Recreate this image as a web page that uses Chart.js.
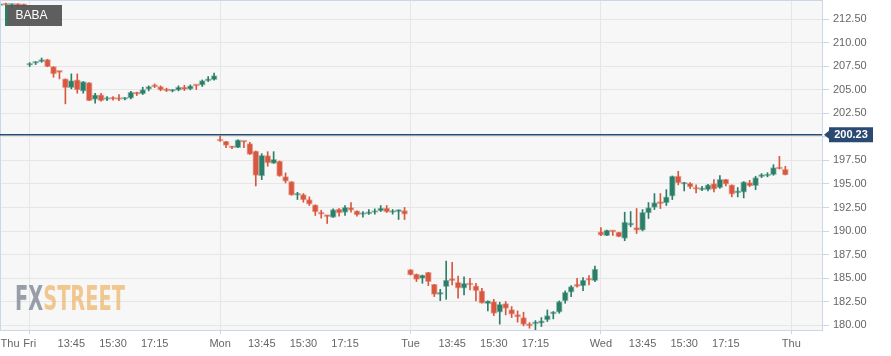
<!DOCTYPE html>
<html>
<head>
<meta charset="utf-8">
<script src="https://cdn.jsdelivr.net/npm/chart.js@4/dist/chart.umd.min.js"></script>
<style>
  html, body { margin: 0; padding: 0; background: #ffffff; }
  #wrap { width: 891px; height: 356px; }
</style>
</head>
<body>
<div id="wrap"><canvas id="c" width="891" height="356"></canvas></div>
<script>
// ---- DATA (15-minute candles, slot index = 15-min steps; Fri 12:00 = slot 0) ----
const symbol = 'BABA';
const lastPrice = 200.23;
const firstSlot = -5;

const opens = [
  // Thu (tail)
  213.95, 214.05, 213.98, 214.05, 214.00,
  // Fri
  207.61, 207.82, 207.99, 208.21, 207.47, 206.97, 206.16, 205.24, 206.05, 204.85, 205.77, 203.97, 204.46, 203.97, 204.15, 204.08,
  204.00, 204.11, 204.75, 204.57, 205.06, 205.42, 205.35, 205.03, 204.85, 204.96, 205.28, 205.06, 205.49, 205.49, 205.95, 206.09,
  // Mon
  199.67, 199.52, 198.99, 198.85, 199.52, 199.28, 198.50, 195.85, 198.01, 197.19, 197.44, 195.78, 195.25, 193.80, 193.88, 193.35,
  192.78, 192.00, 191.65, 191.44, 192.32, 191.97, 192.50, 192.14, 191.76, 191.83, 191.97, 192.14, 192.43, 191.97, 192.07, 192.18,
  // Tue
  185.90, 185.44, 184.98, 185.61, 184.34, 183.28, 184.10, 184.87, 184.55, 183.92, 184.41, 184.17, 183.64, 182.29, 182.51, 181.38,
  182.29, 181.66, 181.13, 180.81, 180.04, 180.14, 180.21, 180.56, 181.20, 181.38, 182.58, 183.50, 184.27, 184.17, 184.87, 184.73,
  // Wed
  189.92, 189.50, 190.02, 189.88, 189.21, 190.62, 190.38, 190.10, 191.93, 192.50, 193.10, 192.99, 193.70, 195.85, 194.97, 195.07,
  194.65, 194.37, 194.40, 195.04, 194.62, 195.50, 194.90, 194.05, 194.12, 195.15, 194.83, 195.78, 195.85, 195.99, 196.77, 196.56
];
const highs = [
  214.15, 214.20, 214.10, 214.15, 214.10,
  207.89, 207.99, 208.38, 208.25, 207.47, 206.97, 206.16, 206.69, 206.69, 205.88, 205.77, 204.64, 204.64, 204.29, 204.29, 204.50,
  204.18, 204.85, 204.75, 205.28, 205.42, 205.63, 205.42, 205.17, 205.03, 205.42, 205.49, 205.52, 205.49, 206.05, 206.41, 206.79,
  200.09, 199.52, 198.99, 199.70, 199.52, 199.42, 198.50, 198.22, 198.43, 198.43, 197.44, 196.17, 195.25, 194.12, 193.98, 193.63,
  192.78, 192.21, 191.65, 192.36, 192.39, 192.71, 193.03, 192.14, 192.07, 192.29, 192.36, 192.71, 192.71, 192.29, 192.25, 192.50,
  185.90, 185.44, 185.33, 185.61, 184.34, 183.81, 186.81, 186.67, 185.23, 185.15, 184.98, 184.45, 183.92, 182.58, 182.75, 182.44,
  182.51, 181.98, 181.52, 181.38, 180.28, 180.49, 180.81, 181.62, 181.45, 182.58, 183.64, 184.20, 184.98, 185.05, 185.26, 186.28,
  190.38, 190.10, 190.02, 189.88, 192.00, 192.07, 192.39, 192.28, 193.03, 193.98, 193.98, 194.40, 195.85, 196.35, 195.18, 195.15,
  194.90, 194.76, 194.97, 195.46, 195.89, 195.50, 194.90, 194.62, 195.25, 195.39, 195.82, 196.10, 196.20, 197.05, 197.93, 196.87
];
const lows = [
  213.85, 213.90, 213.75, 213.80, 213.85,
  207.47, 207.68, 207.92, 207.45, 206.34, 206.16, 203.51, 205.10, 204.64, 204.64, 203.86, 203.58, 203.79, 203.86, 203.90, 203.86,
  203.93, 204.04, 204.39, 204.50, 204.89, 205.24, 204.89, 204.82, 204.78, 204.89, 204.92, 204.99, 205.03, 205.35, 205.88, 206.02,
  199.52, 198.85, 198.75, 198.85, 198.85, 198.15, 194.79, 195.46, 196.88, 197.19, 195.82, 195.11, 193.80, 193.35, 193.06, 192.71,
  191.65, 191.37, 190.80, 191.44, 191.58, 191.65, 192.00, 191.58, 191.47, 191.76, 191.79, 192.07, 191.97, 191.79, 191.23, 191.23,
  185.33, 184.63, 184.45, 184.20, 183.04, 182.61, 182.75, 184.27, 182.86, 183.21, 183.74, 182.58, 182.33, 181.52, 181.02, 180.11,
  181.09, 180.81, 180.32, 179.93, 179.68, 179.51, 179.86, 180.39, 180.67, 181.27, 182.33, 183.04, 184.03, 183.67, 184.27, 184.63,
  189.50, 189.50, 189.53, 189.39, 188.97, 190.45, 189.74, 190.02, 191.33, 192.28, 192.39, 192.71, 193.34, 194.90, 194.26, 194.51,
  194.05, 194.30, 194.26, 194.16, 194.54, 194.79, 193.63, 193.63, 193.52, 194.72, 194.40, 195.67, 195.75, 195.92, 196.59, 195.96
];
const closes = [
  214.05, 213.98, 214.02, 213.95, 213.93,
  207.82, 207.96, 208.21, 207.47, 206.69, 206.86, 205.24, 205.98, 204.99, 205.88, 203.86, 204.46, 203.86, 204.18, 204.00, 203.97,
  204.11, 204.75, 204.53, 205.03, 205.35, 205.31, 204.99, 204.89, 204.96, 205.28, 205.03, 205.42, 205.42, 205.98, 206.12, 206.51,
  199.56, 199.10, 198.85, 199.70, 199.45, 198.15, 195.92, 198.04, 197.23, 197.62, 195.82, 195.29, 193.80, 193.91, 193.31, 192.85,
  192.04, 191.79, 191.54, 192.29, 191.93, 192.53, 192.21, 191.72, 191.86, 191.97, 192.14, 192.43, 192.04, 192.07, 192.25, 191.79,
  185.33, 184.87, 185.33, 184.63, 183.28, 183.42, 184.80, 184.73, 183.92, 184.45, 184.27, 183.67, 182.33, 182.58, 181.24, 182.22,
  181.77, 181.16, 180.88, 180.07, 179.93, 180.25, 180.46, 181.02, 181.38, 182.51, 183.50, 184.10, 184.13, 184.80, 184.77, 185.97,
  189.57, 190.10, 189.92, 189.39, 190.94, 190.84, 190.10, 192.00, 192.50, 193.03, 192.92, 193.63, 195.85, 195.11, 195.07, 194.69,
  194.44, 194.47, 194.90, 194.44, 195.50, 194.97, 193.91, 194.16, 195.22, 194.79, 195.67, 195.96, 195.99, 196.73, 196.59, 195.96
];

const xTickSlots  = [-3.3, 0, 7, 14, 21, 32, 39, 46, 53, 64, 71, 78, 85, 96, 103, 110, 117, 128];
const xTickLabels = ['Thu', 'Fri', '13:45', '15:30', '17:15', 'Mon', '13:45', '15:30', '17:15',
                     'Tue', '13:45', '15:30', '17:15', 'Wed', '13:45', '15:30', '17:15', 'Thu'];
const dayBoundarySlots = [0, 32, 64, 96, 128];
const yTickValues = [180, 182.5, 185, 187.5, 190, 192.5, 195, 197.5, 200, 202.5, 205, 207.5, 210, 212.5];

// ---- styling ----
const UP = '#2b7f68', DOWN = '#d9573f';
const UP_EDGE = 'rgba(43,127,104,0.40)', DOWN_EDGE = 'rgba(217,87,63,0.45)';
const AXIS = '#ccd6eb', GRID = '#e6e6e6', LABEL = '#666666';
const FONT = '"Liberation Sans", Arial, sans-serif';

const isUp = opens.map((o, i) => closes[i] >= o);
const bodies = opens.map((o, i) => ({ x: firstSlot + i, y: [o, closes[i]] }));
const wicks  = opens.map((o, i) => ({ x: firstSlot + i, y: [lows[i], highs[i]] }));

const bgPlugin = {
  id: 'bg',
  beforeDraw(chart) {
    const { ctx, chartArea: a } = chart;
    ctx.save();
    ctx.fillStyle = '#ffffff';
    ctx.fillRect(0, 0, chart.width, chart.height);
    ctx.fillStyle = '#f7f7f7';
    ctx.fillRect(a.left, a.top, a.right - a.left, a.bottom - a.top);
    ctx.restore();
  },
  beforeDatasetsDraw(chart) {
    // watermark
    const { ctx } = chart;
    ctx.save();
    ctx.font = 'bold 34px "DejaVu Sans Condensed", "DejaVu Sans", sans-serif';
    ctx.textBaseline = 'alphabetic';
    const w1 = ctx.measureText('FX').width, w2 = ctx.measureText('STREET').width;
    const sx = 110 / (w1 + w2);
    ctx.translate(15, 310);
    ctx.scale(sx, 1);
    ctx.fillStyle = 'rgba(120,128,140,0.75)';
    ctx.fillText('FX', 0, 0);
    ctx.fillStyle = 'rgba(238,178,100,0.70)';
    ctx.fillText('STREET', w1, 0);
    ctx.restore();
  },
  afterDraw(chart) {
    const { ctx, chartArea: a } = chart;
    const y = chart.scales.y;
    ctx.save();
    // frame (left/top)
    ctx.strokeStyle = AXIS; ctx.lineWidth = 1;
    ctx.beginPath();
    ctx.moveTo(a.left + 0.5, a.bottom); ctx.lineTo(a.left + 0.5, a.top + 0.5); ctx.lineTo(a.right, a.top + 0.5);
    ctx.stroke();
    // last price line
    const py = y.getPixelForValue(lastPrice);
    ctx.strokeStyle = '#2b4a72'; ctx.lineWidth = 1.5;
    ctx.beginPath(); ctx.moveTo(a.left, py); ctx.lineTo(a.right, py); ctx.stroke();
    // price label
    const bx = a.right + 7, bw = 44, bh = 15;
    ctx.fillStyle = '#2b4a72';
    ctx.beginPath();
    ctx.moveTo(a.right + 2, py);
    ctx.lineTo(bx, py - 4); ctx.lineTo(bx, py - bh / 2); ctx.lineTo(bx + bw, py - bh / 2);
    ctx.lineTo(bx + bw, py + bh / 2); ctx.lineTo(bx, py + bh / 2); ctx.lineTo(bx, py + 4);
    ctx.closePath(); ctx.fill();
    ctx.fillStyle = '#ffffff';
    ctx.font = 'bold 11px ' + FONT;
    ctx.textAlign = 'center'; ctx.textBaseline = 'middle';
    ctx.fillText(lastPrice.toFixed(2), bx + bw / 2, py + 0.5);
    // symbol badge
    ctx.fillStyle = 'rgba(85,85,85,0.95)';
    ctx.fillRect(5, 5, 57, 21);
    ctx.fillStyle = UP;
    ctx.fillRect(5, 5, 2.5, 21);
    ctx.fillStyle = '#ffffff';
    ctx.font = '12px ' + FONT;
    ctx.textAlign = 'left'; ctx.textBaseline = 'middle';
    ctx.fillText(symbol, 15.5, 16);
    ctx.restore();
  }
};

new Chart(document.getElementById('c'), {
  type: 'bar',
  data: {
    datasets: [
      {
        label: 'wick', data: wicks, grouped: false, order: 2,
        backgroundColor: isUp.map(u => u ? UP : DOWN),
        barThickness: 1, borderWidth: 0
      },
      {
        label: 'body', data: bodies, grouped: false, order: 1,
        backgroundColor: isUp.map(u => u ? UP : DOWN),
        borderColor: isUp.map(u => u ? UP_EDGE : DOWN_EDGE),
        borderWidth: 1, borderSkipped: false, barThickness: 6, minBarLength: 2
      }
    ]
  },
  options: {
    responsive: false,
    animation: false,
    events: [],
    layout: { padding: 0 },
    plugins: { legend: { display: false }, tooltip: { enabled: false } },
    scales: {
      x: {
        type: 'linear', offset: false,
        min: -4.99, max: 133.16,
        afterBuildTicks(scale) { scale.ticks = xTickSlots.map(v => ({ value: v })); },
        afterFit(scale) { scale.height = 26; scale.paddingLeft = 0; scale.paddingRight = 0; },
        ticks: {
          autoSkip: false, maxRotation: 0, minRotation: 0, padding: 3,
          color: LABEL, font: { family: FONT, size: 11 },
          callback: (v, i) => xTickLabels[i]
        },
        grid: {
          offset: false,
          color: c => (c.tick && dayBoundarySlots.includes(c.tick.value)) ? GRID : 'rgba(0,0,0,0)',
          tickColor: c => (c.tick && dayBoundarySlots.includes(c.tick.value)) ? AXIS : 'rgba(0,0,0,0)',
          tickLength: 4, lineWidth: 1
        },
        border: { color: AXIS, width: 1 }
      },
      y: {
        position: 'right',
        min: 179.49, max: 214.54,
        afterBuildTicks(scale) { scale.ticks = yTickValues.map(v => ({ value: v })); },
        afterFit(scale) { scale.width = 69; scale.paddingTop = 0; scale.paddingBottom = 0; },
        ticks: {
          padding: 4, color: LABEL, font: { family: FONT, size: 11 },
          callback: v => Number(v).toFixed(2)
        },
        grid: { color: GRID, tickColor: AXIS, tickLength: 7, lineWidth: 1 },
        border: { color: AXIS, width: 1 }
      }
    }
  },
  plugins: [bgPlugin]
});
</script>
</body>
</html>
